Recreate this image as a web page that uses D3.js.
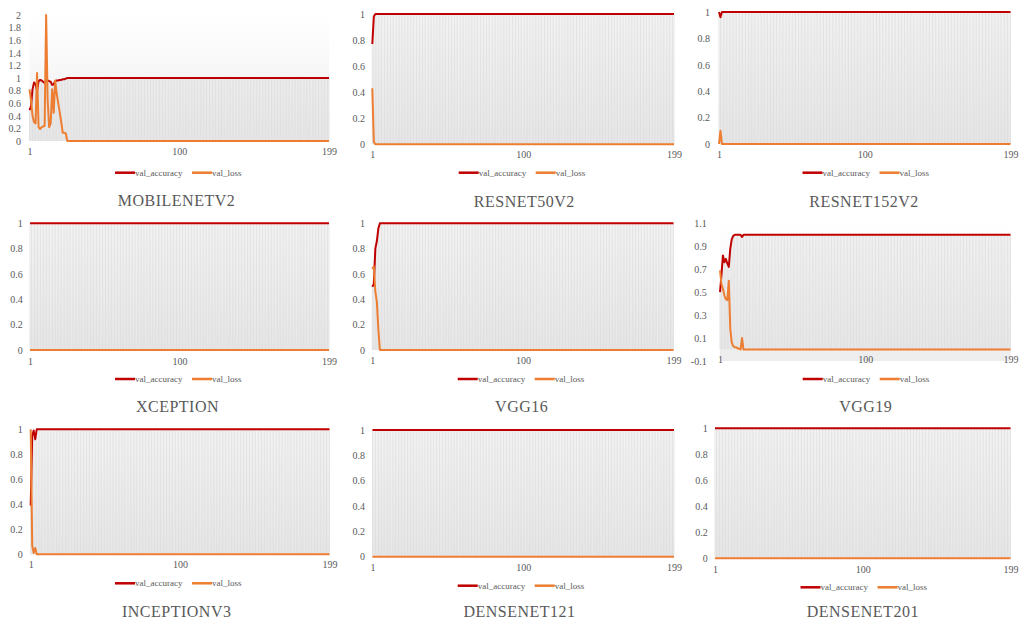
<!DOCTYPE html>
<html>
<head>
<meta charset="utf-8">
<script src="https://cdn.jsdelivr.net/npm/d3@7"></script>
<style>
  html, body { margin: 0; padding: 0; background: #ffffff; }
  svg { display: block; font-family: "Liberation Serif", "Times New Roman", serif; }
</style>
</head>
<body>
<svg id="chart" width="1020" height="621"></svg>
<script>
// ---- tick labels and names ----
const xTicks = [1, 100, 199];
const yTicksUnit = [0, 0.2, 0.4, 0.6, 0.8, 1];
const yTicksMobile = [0, 0.2, 0.4, 0.6, 0.8, 1, 1.2, 1.4, 1.6, 1.8, 2];
const yTicksVgg19 = [-0.1, 0.1, 0.3, 0.5, 0.7, 0.9, 1.1];
const seriesNames = ["val_accuracy", "val_loss"];
const modelNames = ["MOBILENETV2", "RESNET50V2", "RESNET152V2", "XCEPTION", "VGG16", "VGG19",
                    "INCEPTIONV3", "DENSENET121", "DENSENET201"];

// ---- validation curves, epochs 1..199 (20 values per row) ----
const mobilenetV2Acc = [
  0.49,0.55,0.82,0.93,0.90, 0.80,0.95,0.97,0.96,0.94, 0.92,0.95,0.96,0.95,0.94, 0.89,0.90,0.95,0.96,0.96,
  0.97,0.97,0.98,0.98,0.99, 1,1,1,1,1, 1,1,1,1,1, 1,1,1,1,1,
  1,1,1,1,1, 1,1,1,1,1, 1,1,1,1,1, 1,1,1,1,1,
  1,1,1,1,1, 1,1,1,1,1, 1,1,1,1,1, 1,1,1,1,1,
  1,1,1,1,1, 1,1,1,1,1, 1,1,1,1,1, 1,1,1,1,1,
  1,1,1,1,1, 1,1,1,1,1, 1,1,1,1,1, 1,1,1,1,1,
  1,1,1,1,1, 1,1,1,1,1, 1,1,1,1,1, 1,1,1,1,1,
  1,1,1,1,1, 1,1,1,1,1, 1,1,1,1,1, 1,1,1,1,1,
  1,1,1,1,1, 1,1,1,1,1, 1,1,1,1,1, 1,1,1,1,1,
  1,1,1,1,1, 1,1,1,1,1, 1,1,1,1,1, 1,1,1,1
];
const mobilenetV2Loss = [
  0.82,0.65,0.40,0.30,0.28, 1.08,0.22,0.19,0.22,0.23, 0.24,2.00,0.65,0.22,0.28, 0.82,0.45,0.96,0.75,0.60,
  0.45,0.30,0.13,0.13,0.12, 0,0,0,0,0, 0,0,0,0,0, 0,0,0,0,0,
  0,0,0,0,0, 0,0,0,0,0, 0,0,0,0,0, 0,0,0,0,0,
  0,0,0,0,0, 0,0,0,0,0, 0,0,0,0,0, 0,0,0,0,0,
  0,0,0,0,0, 0,0,0,0,0, 0,0,0,0,0, 0,0,0,0,0,
  0,0,0,0,0, 0,0,0,0,0, 0,0,0,0,0, 0,0,0,0,0,
  0,0,0,0,0, 0,0,0,0,0, 0,0,0,0,0, 0,0,0,0,0,
  0,0,0,0,0, 0,0,0,0,0, 0,0,0,0,0, 0,0,0,0,0,
  0,0,0,0,0, 0,0,0,0,0, 0,0,0,0,0, 0,0,0,0,0,
  0,0,0,0,0, 0,0,0,0,0, 0,0,0,0,0, 0,0,0,0
];
const resnet50V2Acc = [
  0.77,0.98,1,1,1, 1,1,1,1,1, 1,1,1,1,1, 1,1,1,1,1,
  1,1,1,1,1, 1,1,1,1,1, 1,1,1,1,1, 1,1,1,1,1,
  1,1,1,1,1, 1,1,1,1,1, 1,1,1,1,1, 1,1,1,1,1,
  1,1,1,1,1, 1,1,1,1,1, 1,1,1,1,1, 1,1,1,1,1,
  1,1,1,1,1, 1,1,1,1,1, 1,1,1,1,1, 1,1,1,1,1,
  1,1,1,1,1, 1,1,1,1,1, 1,1,1,1,1, 1,1,1,1,1,
  1,1,1,1,1, 1,1,1,1,1, 1,1,1,1,1, 1,1,1,1,1,
  1,1,1,1,1, 1,1,1,1,1, 1,1,1,1,1, 1,1,1,1,1,
  1,1,1,1,1, 1,1,1,1,1, 1,1,1,1,1, 1,1,1,1,1,
  1,1,1,1,1, 1,1,1,1,1, 1,1,1,1,1, 1,1,1,1
];
const resnet50V2Loss = [
  0.43,0.02,0,0,0, 0,0,0,0,0, 0,0,0,0,0, 0,0,0,0,0,
  0,0,0,0,0, 0,0,0,0,0, 0,0,0,0,0, 0,0,0,0,0,
  0,0,0,0,0, 0,0,0,0,0, 0,0,0,0,0, 0,0,0,0,0,
  0,0,0,0,0, 0,0,0,0,0, 0,0,0,0,0, 0,0,0,0,0,
  0,0,0,0,0, 0,0,0,0,0, 0,0,0,0,0, 0,0,0,0,0,
  0,0,0,0,0, 0,0,0,0,0, 0,0,0,0,0, 0,0,0,0,0,
  0,0,0,0,0, 0,0,0,0,0, 0,0,0,0,0, 0,0,0,0,0,
  0,0,0,0,0, 0,0,0,0,0, 0,0,0,0,0, 0,0,0,0,0,
  0,0,0,0,0, 0,0,0,0,0, 0,0,0,0,0, 0,0,0,0,0,
  0,0,0,0,0, 0,0,0,0,0, 0,0,0,0,0, 0,0,0,0
];
const resnet152V2Acc = [
  1,0.96,1,1,1, 1,1,1,1,1, 1,1,1,1,1, 1,1,1,1,1,
  1,1,1,1,1, 1,1,1,1,1, 1,1,1,1,1, 1,1,1,1,1,
  1,1,1,1,1, 1,1,1,1,1, 1,1,1,1,1, 1,1,1,1,1,
  1,1,1,1,1, 1,1,1,1,1, 1,1,1,1,1, 1,1,1,1,1,
  1,1,1,1,1, 1,1,1,1,1, 1,1,1,1,1, 1,1,1,1,1,
  1,1,1,1,1, 1,1,1,1,1, 1,1,1,1,1, 1,1,1,1,1,
  1,1,1,1,1, 1,1,1,1,1, 1,1,1,1,1, 1,1,1,1,1,
  1,1,1,1,1, 1,1,1,1,1, 1,1,1,1,1, 1,1,1,1,1,
  1,1,1,1,1, 1,1,1,1,1, 1,1,1,1,1, 1,1,1,1,1,
  1,1,1,1,1, 1,1,1,1,1, 1,1,1,1,1, 1,1,1,1
];
const resnet152V2Loss = [
  0,0.10,0,0,0, 0,0,0,0,0, 0,0,0,0,0, 0,0,0,0,0,
  0,0,0,0,0, 0,0,0,0,0, 0,0,0,0,0, 0,0,0,0,0,
  0,0,0,0,0, 0,0,0,0,0, 0,0,0,0,0, 0,0,0,0,0,
  0,0,0,0,0, 0,0,0,0,0, 0,0,0,0,0, 0,0,0,0,0,
  0,0,0,0,0, 0,0,0,0,0, 0,0,0,0,0, 0,0,0,0,0,
  0,0,0,0,0, 0,0,0,0,0, 0,0,0,0,0, 0,0,0,0,0,
  0,0,0,0,0, 0,0,0,0,0, 0,0,0,0,0, 0,0,0,0,0,
  0,0,0,0,0, 0,0,0,0,0, 0,0,0,0,0, 0,0,0,0,0,
  0,0,0,0,0, 0,0,0,0,0, 0,0,0,0,0, 0,0,0,0,0,
  0,0,0,0,0, 0,0,0,0,0, 0,0,0,0,0, 0,0,0,0
];
const xceptionAcc = [
  1,1,1,1,1, 1,1,1,1,1, 1,1,1,1,1, 1,1,1,1,1,
  1,1,1,1,1, 1,1,1,1,1, 1,1,1,1,1, 1,1,1,1,1,
  1,1,1,1,1, 1,1,1,1,1, 1,1,1,1,1, 1,1,1,1,1,
  1,1,1,1,1, 1,1,1,1,1, 1,1,1,1,1, 1,1,1,1,1,
  1,1,1,1,1, 1,1,1,1,1, 1,1,1,1,1, 1,1,1,1,1,
  1,1,1,1,1, 1,1,1,1,1, 1,1,1,1,1, 1,1,1,1,1,
  1,1,1,1,1, 1,1,1,1,1, 1,1,1,1,1, 1,1,1,1,1,
  1,1,1,1,1, 1,1,1,1,1, 1,1,1,1,1, 1,1,1,1,1,
  1,1,1,1,1, 1,1,1,1,1, 1,1,1,1,1, 1,1,1,1,1,
  1,1,1,1,1, 1,1,1,1,1, 1,1,1,1,1, 1,1,1,1
];
const xceptionLoss = [
  0,0,0,0,0, 0,0,0,0,0, 0,0,0,0,0, 0,0,0,0,0,
  0,0,0,0,0, 0,0,0,0,0, 0,0,0,0,0, 0,0,0,0,0,
  0,0,0,0,0, 0,0,0,0,0, 0,0,0,0,0, 0,0,0,0,0,
  0,0,0,0,0, 0,0,0,0,0, 0,0,0,0,0, 0,0,0,0,0,
  0,0,0,0,0, 0,0,0,0,0, 0,0,0,0,0, 0,0,0,0,0,
  0,0,0,0,0, 0,0,0,0,0, 0,0,0,0,0, 0,0,0,0,0,
  0,0,0,0,0, 0,0,0,0,0, 0,0,0,0,0, 0,0,0,0,0,
  0,0,0,0,0, 0,0,0,0,0, 0,0,0,0,0, 0,0,0,0,0,
  0,0,0,0,0, 0,0,0,0,0, 0,0,0,0,0, 0,0,0,0,0,
  0,0,0,0,0, 0,0,0,0,0, 0,0,0,0,0, 0,0,0,0
];
const vgg16Acc = [
  0.50,0.52,0.80,0.86,0.96, 1,1,1,1,1, 1,1,1,1,1, 1,1,1,1,1,
  1,1,1,1,1, 1,1,1,1,1, 1,1,1,1,1, 1,1,1,1,1,
  1,1,1,1,1, 1,1,1,1,1, 1,1,1,1,1, 1,1,1,1,1,
  1,1,1,1,1, 1,1,1,1,1, 1,1,1,1,1, 1,1,1,1,1,
  1,1,1,1,1, 1,1,1,1,1, 1,1,1,1,1, 1,1,1,1,1,
  1,1,1,1,1, 1,1,1,1,1, 1,1,1,1,1, 1,1,1,1,1,
  1,1,1,1,1, 1,1,1,1,1, 1,1,1,1,1, 1,1,1,1,1,
  1,1,1,1,1, 1,1,1,1,1, 1,1,1,1,1, 1,1,1,1,1,
  1,1,1,1,1, 1,1,1,1,1, 1,1,1,1,1, 1,1,1,1,1,
  1,1,1,1,1, 1,1,1,1,1, 1,1,1,1,1, 1,1,1,1
];
const vgg16Loss = [
  0.64,0.66,0.46,0.38,0.16, 0,0,0,0,0, 0,0,0,0,0, 0,0,0,0,0,
  0,0,0,0,0, 0,0,0,0,0, 0,0,0,0,0, 0,0,0,0,0,
  0,0,0,0,0, 0,0,0,0,0, 0,0,0,0,0, 0,0,0,0,0,
  0,0,0,0,0, 0,0,0,0,0, 0,0,0,0,0, 0,0,0,0,0,
  0,0,0,0,0, 0,0,0,0,0, 0,0,0,0,0, 0,0,0,0,0,
  0,0,0,0,0, 0,0,0,0,0, 0,0,0,0,0, 0,0,0,0,0,
  0,0,0,0,0, 0,0,0,0,0, 0,0,0,0,0, 0,0,0,0,0,
  0,0,0,0,0, 0,0,0,0,0, 0,0,0,0,0, 0,0,0,0,0,
  0,0,0,0,0, 0,0,0,0,0, 0,0,0,0,0, 0,0,0,0,0,
  0,0,0,0,0, 0,0,0,0,0, 0,0,0,0,0, 0,0,0,0
];
const vgg19Acc = [
  0.50,0.65,0.82,0.76,0.79, 0.75,0.72,0.88,0.96,0.99, 1,1,1,1,1, 0.98,1,1,1,1,
  1,1,1,1,1, 1,1,1,1,1, 1,1,1,1,1, 1,1,1,1,1,
  1,1,1,1,1, 1,1,1,1,1, 1,1,1,1,1, 1,1,1,1,1,
  1,1,1,1,1, 1,1,1,1,1, 1,1,1,1,1, 1,1,1,1,1,
  1,1,1,1,1, 1,1,1,1,1, 1,1,1,1,1, 1,1,1,1,1,
  1,1,1,1,1, 1,1,1,1,1, 1,1,1,1,1, 1,1,1,1,1,
  1,1,1,1,1, 1,1,1,1,1, 1,1,1,1,1, 1,1,1,1,1,
  1,1,1,1,1, 1,1,1,1,1, 1,1,1,1,1, 1,1,1,1,1,
  1,1,1,1,1, 1,1,1,1,1, 1,1,1,1,1, 1,1,1,1,1,
  1,1,1,1,1, 1,1,1,1,1, 1,1,1,1,1, 1,1,1,1
];
const vgg19Loss = [
  0.69,0.57,0.53,0.47,0.44, 0.43,0.60,0.18,0.06,0.03, 0.02,0.02,0.01,0.01,0, 0.10,0,0,0,0,
  0,0,0,0,0, 0,0,0,0,0, 0,0,0,0,0, 0,0,0,0,0,
  0,0,0,0,0, 0,0,0,0,0, 0,0,0,0,0, 0,0,0,0,0,
  0,0,0,0,0, 0,0,0,0,0, 0,0,0,0,0, 0,0,0,0,0,
  0,0,0,0,0, 0,0,0,0,0, 0,0,0,0,0, 0,0,0,0,0,
  0,0,0,0,0, 0,0,0,0,0, 0,0,0,0,0, 0,0,0,0,0,
  0,0,0,0,0, 0,0,0,0,0, 0,0,0,0,0, 0,0,0,0,0,
  0,0,0,0,0, 0,0,0,0,0, 0,0,0,0,0, 0,0,0,0,0,
  0,0,0,0,0, 0,0,0,0,0, 0,0,0,0,0, 0,0,0,0,0,
  0,0,0,0,0, 0,0,0,0,0, 0,0,0,0,0, 0,0,0,0
];
const inceptionV3Acc = [
  0.39,0.95,0.99,0.92,1, 1,1,1,1,1, 1,1,1,1,1, 1,1,1,1,1,
  1,1,1,1,1, 1,1,1,1,1, 1,1,1,1,1, 1,1,1,1,1,
  1,1,1,1,1, 1,1,1,1,1, 1,1,1,1,1, 1,1,1,1,1,
  1,1,1,1,1, 1,1,1,1,1, 1,1,1,1,1, 1,1,1,1,1,
  1,1,1,1,1, 1,1,1,1,1, 1,1,1,1,1, 1,1,1,1,1,
  1,1,1,1,1, 1,1,1,1,1, 1,1,1,1,1, 1,1,1,1,1,
  1,1,1,1,1, 1,1,1,1,1, 1,1,1,1,1, 1,1,1,1,1,
  1,1,1,1,1, 1,1,1,1,1, 1,1,1,1,1, 1,1,1,1,1,
  1,1,1,1,1, 1,1,1,1,1, 1,1,1,1,1, 1,1,1,1,1,
  1,1,1,1,1, 1,1,1,1,1, 1,1,1,1,1, 1,1,1,1
];
const inceptionV3Loss = [
  1.00,0.07,0.01,0.05,0, 0,0,0,0,0, 0,0,0,0,0, 0,0,0,0,0,
  0,0,0,0,0, 0,0,0,0,0, 0,0,0,0,0, 0,0,0,0,0,
  0,0,0,0,0, 0,0,0,0,0, 0,0,0,0,0, 0,0,0,0,0,
  0,0,0,0,0, 0,0,0,0,0, 0,0,0,0,0, 0,0,0,0,0,
  0,0,0,0,0, 0,0,0,0,0, 0,0,0,0,0, 0,0,0,0,0,
  0,0,0,0,0, 0,0,0,0,0, 0,0,0,0,0, 0,0,0,0,0,
  0,0,0,0,0, 0,0,0,0,0, 0,0,0,0,0, 0,0,0,0,0,
  0,0,0,0,0, 0,0,0,0,0, 0,0,0,0,0, 0,0,0,0,0,
  0,0,0,0,0, 0,0,0,0,0, 0,0,0,0,0, 0,0,0,0,0,
  0,0,0,0,0, 0,0,0,0,0, 0,0,0,0,0, 0,0,0,0
];
const densenet121Acc = [
  1,1,1,1,1, 1,1,1,1,1, 1,1,1,1,1, 1,1,1,1,1,
  1,1,1,1,1, 1,1,1,1,1, 1,1,1,1,1, 1,1,1,1,1,
  1,1,1,1,1, 1,1,1,1,1, 1,1,1,1,1, 1,1,1,1,1,
  1,1,1,1,1, 1,1,1,1,1, 1,1,1,1,1, 1,1,1,1,1,
  1,1,1,1,1, 1,1,1,1,1, 1,1,1,1,1, 1,1,1,1,1,
  1,1,1,1,1, 1,1,1,1,1, 1,1,1,1,1, 1,1,1,1,1,
  1,1,1,1,1, 1,1,1,1,1, 1,1,1,1,1, 1,1,1,1,1,
  1,1,1,1,1, 1,1,1,1,1, 1,1,1,1,1, 1,1,1,1,1,
  1,1,1,1,1, 1,1,1,1,1, 1,1,1,1,1, 1,1,1,1,1,
  1,1,1,1,1, 1,1,1,1,1, 1,1,1,1,1, 1,1,1,1
];
const densenet121Loss = [
  0,0,0,0,0, 0,0,0,0,0, 0,0,0,0,0, 0,0,0,0,0,
  0,0,0,0,0, 0,0,0,0,0, 0,0,0,0,0, 0,0,0,0,0,
  0,0,0,0,0, 0,0,0,0,0, 0,0,0,0,0, 0,0,0,0,0,
  0,0,0,0,0, 0,0,0,0,0, 0,0,0,0,0, 0,0,0,0,0,
  0,0,0,0,0, 0,0,0,0,0, 0,0,0,0,0, 0,0,0,0,0,
  0,0,0,0,0, 0,0,0,0,0, 0,0,0,0,0, 0,0,0,0,0,
  0,0,0,0,0, 0,0,0,0,0, 0,0,0,0,0, 0,0,0,0,0,
  0,0,0,0,0, 0,0,0,0,0, 0,0,0,0,0, 0,0,0,0,0,
  0,0,0,0,0, 0,0,0,0,0, 0,0,0,0,0, 0,0,0,0,0,
  0,0,0,0,0, 0,0,0,0,0, 0,0,0,0,0, 0,0,0,0
];
const densenet201Acc = [
  1,1,1,1,1, 1,1,1,1,1, 1,1,1,1,1, 1,1,1,1,1,
  1,1,1,1,1, 1,1,1,1,1, 1,1,1,1,1, 1,1,1,1,1,
  1,1,1,1,1, 1,1,1,1,1, 1,1,1,1,1, 1,1,1,1,1,
  1,1,1,1,1, 1,1,1,1,1, 1,1,1,1,1, 1,1,1,1,1,
  1,1,1,1,1, 1,1,1,1,1, 1,1,1,1,1, 1,1,1,1,1,
  1,1,1,1,1, 1,1,1,1,1, 1,1,1,1,1, 1,1,1,1,1,
  1,1,1,1,1, 1,1,1,1,1, 1,1,1,1,1, 1,1,1,1,1,
  1,1,1,1,1, 1,1,1,1,1, 1,1,1,1,1, 1,1,1,1,1,
  1,1,1,1,1, 1,1,1,1,1, 1,1,1,1,1, 1,1,1,1,1,
  1,1,1,1,1, 1,1,1,1,1, 1,1,1,1,1, 1,1,1,1
];
const densenet201Loss = [
  0,0,0,0,0, 0,0,0,0,0, 0,0,0,0,0, 0,0,0,0,0,
  0,0,0,0,0, 0,0,0,0,0, 0,0,0,0,0, 0,0,0,0,0,
  0,0,0,0,0, 0,0,0,0,0, 0,0,0,0,0, 0,0,0,0,0,
  0,0,0,0,0, 0,0,0,0,0, 0,0,0,0,0, 0,0,0,0,0,
  0,0,0,0,0, 0,0,0,0,0, 0,0,0,0,0, 0,0,0,0,0,
  0,0,0,0,0, 0,0,0,0,0, 0,0,0,0,0, 0,0,0,0,0,
  0,0,0,0,0, 0,0,0,0,0, 0,0,0,0,0, 0,0,0,0,0,
  0,0,0,0,0, 0,0,0,0,0, 0,0,0,0,0, 0,0,0,0,0,
  0,0,0,0,0, 0,0,0,0,0, 0,0,0,0,0, 0,0,0,0,0,
  0,0,0,0,0, 0,0,0,0,0, 0,0,0,0,0, 0,0,0,0
];

// ---- colours ----
const accColor = "#c00000";
const lossColor = "#ed7d31";
const textColor = "#595959";

// ---- panel geometry (pixel positions of the plot frame and labels) ----
const panels = [
  { acc: mobilenetV2Acc,  loss: mobilenetV2Loss,  yDomain: [0, 2],      yTicks: yTicksMobile,
    x0: 29.5, x1: 329,   yBottom: 141,   yTop: 15,    labelRight: 21,    xLabelY: 151.7, legendX: 177,   legendY: 172.7, titleX: 176.5, titleY: 200 },
  { acc: resnet50V2Acc,   loss: resnet50V2Loss,   yDomain: [0, 1],      yTicks: yTicksUnit,
    x0: 372.3, x1: 674,  yBottom: 144.3, yTop: 14,    labelRight: 365,   xLabelY: 154.3, legendX: 520.7, legendY: 172.7, titleX: 524.3, titleY: 201.7 },
  { acc: resnet152V2Acc,  loss: resnet152V2Loss,  yDomain: [0, 1],      yTicks: yTicksUnit,
    x0: 719, x1: 1010.5, yBottom: 144,   yTop: 12,    labelRight: 710,   xLabelY: 154.3, legendX: 864.5, legendY: 172.7, titleX: 864,   titleY: 201.7 },
  { acc: xceptionAcc,     loss: xceptionLoss,     yDomain: [0, 1],      yTicks: yTicksUnit,
    x0: 30, x1: 329,     yBottom: 350,   yTop: 223.3, labelRight: 22.7,  xLabelY: 361,   legendX: 177,   legendY: 379,   titleX: 177.5, titleY: 406.7 },
  { acc: vgg16Acc,        loss: vgg16Loss,        yDomain: [0, 1],      yTicks: yTicksUnit,
    x0: 372.3, x1: 673.5, yBottom: 350,  yTop: 223.3, labelRight: 365,   xLabelY: 360.7, legendX: 519.7, legendY: 379,   titleX: 521.7, titleY: 406.7 },
  { acc: vgg19Acc,        loss: vgg19Loss,        yDomain: [-0.1, 1.1], yTicks: yTicksVgg19,
    x0: 720, x1: 1010.5, yBottom: 361,   yTop: 223.3, labelRight: 706.7, xLabelY: 359,   legendX: 864.7, legendY: 379,   titleX: 865.8, titleY: 406.7 },
  { acc: inceptionV3Acc,  loss: inceptionV3Loss,  yDomain: [0, 1],      yTicks: yTicksUnit,
    x0: 30.7, x1: 329.5, yBottom: 554.3, yTop: 429.3, labelRight: 22.7,  xLabelY: 564.3, legendX: 177,   legendY: 583.3, titleX: 176.7, titleY: 611.7 },
  { acc: densenet121Acc,  loss: densenet121Loss,  yDomain: [0, 1],      yTicks: yTicksUnit,
    x0: 372.5, x1: 674,  yBottom: 556.7, yTop: 430,   labelRight: 365,   xLabelY: 567.7, legendX: 519.7, legendY: 585.7, titleX: 519.5, titleY: 611.7 },
  { acc: densenet201Acc,  loss: densenet201Loss,  yDomain: [0, 1],      yTicks: yTicksUnit,
    x0: 715, x1: 1010.5, yBottom: 558.3, yTop: 428.3, labelRight: 707.7, xLabelY: 569,   legendX: 862.5, legendY: 587.3, titleX: 862.8, titleY: 611 }
];

const svg = d3.select("#chart");

// soft vertical wash behind each plot
const grad = svg.append("defs").append("linearGradient")
  .attr("id", "plotWash").attr("x1", 0).attr("y1", 0).attr("x2", 0).attr("y2", 1);
grad.append("stop").attr("offset", "0%").attr("stop-color", "#ffffff");
grad.append("stop").attr("offset", "100%").attr("stop-color", "#ededed");

const fmtY = d => String(Math.round(d * 10) / 10);

panels.forEach((p, k) => {
  const g = svg.append("g");
  const n = p.acc.length;
  const x = d3.scaleLinear().domain([1, n]).range([p.x0, p.x1]);
  const y = d3.scaleLinear().domain(p.yDomain).range([p.yBottom, p.yTop]);

  g.append("rect")
    .attr("x", p.x0).attr("y", p.yTop)
    .attr("width", p.x1 - p.x0).attr("height", p.yBottom - p.yTop)
    .attr("fill", "url(#plotWash)");

  // drop lines from each accuracy point to the zero line
  g.append("g").selectAll("line").data(p.acc).join("line")
    .attr("x1", (d, i) => x(i + 1)).attr("x2", (d, i) => x(i + 1))
    .attr("y1", d => y(d)).attr("y2", y(0))
    .attr("stroke", "#d9d9d9").attr("stroke-width", 0.7);

  // value axis
  const ya = g.append("g")
    .attr("transform", `translate(${p.x0},0)`)
    .call(d3.axisLeft(y).tickValues(p.yTicks).tickSize(0)
      .tickPadding(p.x0 - p.labelRight).tickFormat(fmtY));
  ya.select(".domain").remove();
  ya.attr("font-family", null).attr("font-size", null);
  ya.selectAll("text").attr("fill", textColor).attr("font-size", 10);

  // epoch axis
  const xa = g.append("g")
    .attr("transform", `translate(0,${p.xLabelY})`)
    .call(d3.axisBottom(x).tickValues(xTicks).tickSize(0).tickPadding(0).tickFormat(d3.format("d")));
  xa.select(".domain").remove();
  xa.attr("font-family", null).attr("font-size", null);
  xa.selectAll("text").attr("fill", textColor).attr("font-size", 10).attr("dy", "0.35em");

  const line = d3.line().x((d, i) => x(i + 1)).y(d => y(d));
  g.append("path").datum(p.acc).attr("d", line)
    .attr("fill", "none").attr("stroke", accColor).attr("stroke-width", 2)
    .attr("stroke-linejoin", "round");
  g.append("path").datum(p.loss).attr("d", line)
    .attr("fill", "none").attr("stroke", lossColor).attr("stroke-width", 2)
    .attr("stroke-linejoin", "round");

  // legend
  const lg = g.append("g").attr("transform", `translate(${p.legendX},${p.legendY})`);
  const items = [
    { name: seriesNames[0], color: accColor, dx: -62 },
    { name: seriesNames[1], color: lossColor, dx: 15 }
  ];
  items.forEach(it => {
    lg.append("line").attr("x1", it.dx).attr("x2", it.dx + 20).attr("y1", 0).attr("y2", 0)
      .attr("stroke", it.color).attr("stroke-width", 2.5);
    lg.append("text").attr("x", it.dx + 20).attr("y", 0).attr("dy", "0.35em")
      .attr("font-size", 9).attr("fill", textColor).text(it.name);
  });

  // model title
  g.append("text").attr("x", p.titleX).attr("y", p.titleY).attr("dy", "0.35em")
    .attr("text-anchor", "middle").attr("font-size", 16).attr("letter-spacing", 0.5)
    .attr("fill", textColor).text(modelNames[k]);
});
</script>
</body>
</html>
